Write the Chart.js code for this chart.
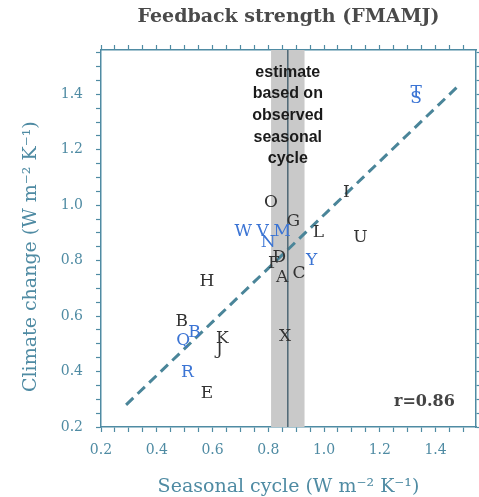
<!DOCTYPE html>
<html>
<head>
<meta charset="utf-8">
<script src="https://cdn.jsdelivr.net/npm/chart.js@4.4.0/dist/chart.umd.min.js"></script>
<style>
  html, body { margin: 0; padding: 0; background: #fff; }
</style>
</head>
<body>
<canvas id="feedbackChart" width="479" height="497"></canvas>
<script>
// models drawn in black
const blackModels   = ['O', 'G', 'I', 'L', 'U', 'D', 'F', 'A', 'C', 'H', 'X', 'B', 'K', 'J', 'E'];
const blackSeasonal = [0.81, 0.89, 1.08, 0.98, 1.13, 0.84, 0.82, 0.85, 0.91, 0.58, 0.86, 0.49, 0.635, 0.625, 0.58];
const blackClimate  = [1.01, 0.94, 1.045, 0.90, 0.885, 0.81, 0.79, 0.74, 0.755, 0.725, 0.525, 0.58, 0.52, 0.48, 0.32];

// models drawn in blue
const blueModels   = ['W', 'V', 'M', 'N', 'Y', 'B', 'Q', 'R', 'T', 'S'];
const blueSeasonal = [0.71, 0.78, 0.85, 0.80, 0.955, 0.535, 0.495, 0.51, 1.33, 1.33];
const blueClimate  = [0.905, 0.905, 0.905, 0.865, 0.80, 0.54, 0.51, 0.395, 1.405, 1.385];

// regression line end points
const fitSeasonal = [0.29, 1.475];
const fitClimate  = [0.28, 1.424];

// observational estimate (grey band + centre line)
const estimateBand = [0.81, 0.93];
const estimateCentre = 0.87;
const estimateText = ['estimate', 'based on', 'observed', 'seasonal', 'cycle'];
const correlationText = 'r=0.86';

const xTickLabels = ['0.2', '0.4', '0.6', '0.8', '1.0', '1.2', '1.4'];
const yTickLabels = ['0.2', '0.4', '0.6', '0.8', '1.0', '1.2', '1.4'];

const axisColor = '#4f8ba3';
const serif = "'DejaVu Serif', serif";

function majorLabel(v, labels) {
    const hit = labels.find(l => Math.abs(parseFloat(l) - v) < 1e-6);
    return hit || '';
}

function toPoints(xs, ys) {
    return xs.map((x, i) => ({ x: x, y: ys[i] }));
}

// grey band behind everything, letters and notes on top
const overlayPlugin = {
    id: 'overlay',
    beforeDatasetsDraw(chart) {
        const { ctx, chartArea, scales } = chart;
        const x0 = scales.x.getPixelForValue(estimateBand[0]);
        const x1 = scales.x.getPixelForValue(estimateBand[1]);
        ctx.save();
        ctx.fillStyle = '#c9c9c9';
        ctx.fillRect(x0, chartArea.top, x1 - x0, chartArea.bottom - chartArea.top);
        ctx.restore();
    },
    afterDatasetsDraw(chart) {
        const { ctx, scales } = chart;
        ctx.save();
        ctx.textAlign = 'center';
        ctx.textBaseline = 'middle';
        ctx.font = '17px ' + serif;
        chart.data.datasets.forEach((ds, i) => {
            if (!ds.letters) return;
            const meta = chart.getDatasetMeta(i);
            ctx.fillStyle = ds.letterColor;
            meta.data.forEach((pt, j) => {
                ctx.fillText(ds.letters[j], pt.x, pt.y);
            });
        });

        // estimate note
        ctx.fillStyle = '#1a1a1a';
        ctx.font = "bold 16px 'Liberation Sans', Arial, sans-serif";
        const cx = scales.x.getPixelForValue(estimateCentre);
        const top = scales.y.getPixelForValue(1.48);
        estimateText.forEach((line, k) => {
            ctx.fillText(line, cx, top + k * 21.7);
        });

        // correlation
        ctx.fillStyle = '#444';
        ctx.font = 'bold 16px ' + serif;
        ctx.fillText(correlationText, scales.x.getPixelForValue(1.36), scales.y.getPixelForValue(0.29));
        ctx.restore();
    }
};

function frameAxis(extra) {
    return Object.assign({
        type: 'linear',
        border: { color: axisColor, width: 1.5 },
        grid: { drawOnChartArea: false, tickLength: 5, tickColor: axisColor, tickWidth: 1.2 },
    }, extra);
}

const canvas = document.getElementById('feedbackChart');

new Chart(canvas, {
    type: 'scatter',
    data: {
        datasets: [
            {
                type: 'line',
                data: [{ x: estimateCentre, y: 0.2 }, { x: estimateCentre, y: 1.56 }],
                borderColor: '#4d6774',
                borderWidth: 1.5,
                pointRadius: 0
            },
            {
                type: 'line',
                data: toPoints(fitSeasonal, fitClimate),
                borderColor: '#4a8599',
                borderWidth: 3,
                borderDash: [10, 6],
                pointRadius: 0
            },
            {
                data: toPoints(blackSeasonal, blackClimate),
                pointRadius: 0,
                letters: blackModels,
                letterColor: '#333333'
            },
            {
                data: toPoints(blueSeasonal, blueClimate),
                pointRadius: 0,
                letters: blueModels,
                letterColor: '#3b74d4'
            }
        ]
    },
    options: {
        responsive: false,
        animation: false,
        layout: { padding: 0 },
        plugins: {
            legend: { display: false },
            tooltip: { enabled: false }
        },
        scales: {
            x: frameAxis({
                position: 'bottom',
                min: 0.2,
                max: 1.545,
                afterFit: s => { s.height = 70; },
                ticks: {
                    stepSize: 0.05,
                    autoSkip: false,
                    includeBounds: false,
                    maxRotation: 0,
                    padding: 10,
                    color: axisColor,
                    font: { family: serif, size: 14 },
                    callback: v => majorLabel(v, xTickLabels)
                },
                title: {
                    display: true,
                    text: 'Seasonal cycle (W m⁻² K⁻¹)',
                    color: axisColor,
                    font: { family: serif, size: 19, lineHeight: 1 },
                    padding: { top: 0, bottom: 0 }
                }
            }),
            x2: frameAxis({
                position: 'top',
                min: 0.2,
                max: 1.545,
                afterFit: s => { s.height = 50; },
                ticks: { display: false, stepSize: 0.05, autoSkip: false, includeBounds: false },
                title: {
                    display: true,
                    text: 'Feedback strength (FMAMJ)',
                    color: '#4a4a4a',
                    font: { family: serif, size: 19, weight: 'bold', lineHeight: 1 },
                    padding: { top: 8, bottom: 0 }
                }
            }),
            y: frameAxis({
                position: 'left',
                min: 0.2,
                max: 1.56,
                afterFit: s => { s.width = 101; },
                ticks: {
                    stepSize: 0.05,
                    autoSkip: false,
                    includeBounds: false,
                    padding: 13,
                    color: axisColor,
                    font: { family: serif, size: 14 },
                    callback: v => majorLabel(v, yTickLabels)
                },
                title: {
                    display: true,
                    text: 'Climate change (W m⁻² K⁻¹)      ',
                    color: axisColor,
                    font: { family: serif, size: 19, lineHeight: 1 },
                    padding: { top: 22, bottom: 0 }
                }
            }),
            y2: frameAxis({
                position: 'right',
                min: 0.2,
                max: 1.56,
                afterFit: s => { s.width = 3; },
                ticks: { display: false, stepSize: 0.05, autoSkip: false, includeBounds: false }
            })
        }
    },
    plugins: [overlayPlugin]
});
</script>
</body>
</html>
